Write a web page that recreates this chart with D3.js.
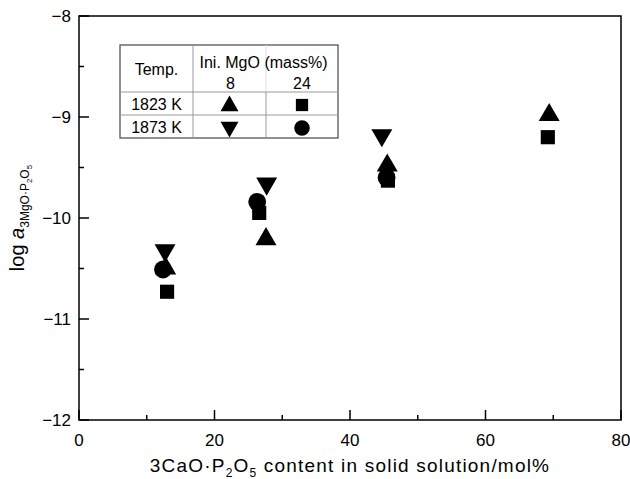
<!DOCTYPE html>
<html>
<head>
<meta charset="utf-8">
<script src="https://cdn.jsdelivr.net/npm/d3@7"></script>
<style>
  body { margin: 0; background: #fff; }
  svg text { font-family: "Liberation Sans", Arial, sans-serif; fill: #000; }
</style>
</head>
<body>
<svg id="chart" width="630" height="479"></svg>
<script>
// x: 3CaO·P2O5 content (mol%), y: log a(3MgO·P2O5)
const triUpX = [12.8, 27.6, 45.5, 69.4];      // 1823 K, 8 mass% MgO
const triUpY = [-10.50, -10.21, -9.48, -8.98];
const squareX = [13.0, 26.6, 45.6, 69.2];     // 1823 K, 24 mass% MgO
const squareY = [-10.73, -9.95, -9.63, -9.20];
const triDownX = [12.7, 27.7, 44.7];          // 1873 K, 8 mass% MgO
const triDownY = [-10.32, -9.66, -9.18];
const circleX = [12.4, 26.3, 45.4];           // 1873 K, 24 mass% MgO
const circleY = [-10.51, -9.84, -9.60];

const xTicks = [0, 20, 40, 60, 80];
const xMinor = [10, 30, 50, 70];
const yTicks = [-8, -9, -10, -11, -12];
const yMinor = [-8.5, -9.5, -10.5, -11.5];

const svg = d3.select("#chart");
const margin = { left: 79, right: 9, top: 16, bottom: 59 };
const width = 630, height = 479;

const x = d3.scaleLinear().domain([0, 80]).range([margin.left, width - margin.right]);
const y = d3.scaleLinear().domain([-12, -8]).range([height - margin.bottom, margin.top]);

// frame
svg.append("rect")
  .attr("x", x(0)).attr("y", y(-8))
  .attr("width", x(80) - x(0)).attr("height", y(-12) - y(-8))
  .attr("fill", "none").attr("stroke", "#000").attr("stroke-width", 1.5);

// x axis ticks (inward)
svg.append("g").selectAll("line")
  .data(xTicks.map(v => ({ v, len: 10 })).concat(xMinor.map(v => ({ v, len: 5 }))))
  .join("line")
  .attr("x1", d => x(d.v)).attr("x2", d => x(d.v))
  .attr("y1", y(-12)).attr("y2", d => y(-12) - d.len)
  .attr("stroke", "#000").attr("stroke-width", 1.5);

svg.append("g").selectAll("text")
  .data(xTicks)
  .join("text")
  .attr("x", d => x(d)).attr("y", y(-12) + 26)
  .attr("text-anchor", "middle")
  .style("font-size", "17px")
  .text(d => d);

// y axis ticks (inward)
svg.append("g").selectAll("line")
  .data(yTicks.map(v => ({ v, len: 10 })).concat(yMinor.map(v => ({ v, len: 5 }))))
  .join("line")
  .attr("y1", d => y(d.v)).attr("y2", d => y(d.v))
  .attr("x1", x(0)).attr("x2", d => x(0) + d.len)
  .attr("stroke", "#000").attr("stroke-width", 1.5);

svg.append("g").selectAll("text")
  .data(yTicks)
  .join("text")
  .attr("x", x(0) - 8).attr("y", d => y(d)).attr("dy", "0.35em")
  .attr("text-anchor", "end")
  .style("font-size", "17px")
  .text(d => "\u2212" + Math.abs(d));

// x axis title
const xt = svg.append("text")
  .attr("x", (x(0) + x(80)) / 2).attr("y", 472)
  .attr("text-anchor", "middle")
  .style("font-size", "19px")
  .style("letter-spacing", "1.2px");
xt.append("tspan").text("3CaO\u00B7P");
xt.append("tspan").attr("dy", 5).style("font-size", "12px").text("2");
xt.append("tspan").attr("dy", -5).text("O");
xt.append("tspan").attr("dy", 5).style("font-size", "12px").text("5");
xt.append("tspan").attr("dy", -5).text(" content in solid solution/mol%");

// y axis title
const yt = svg.append("text")
  .attr("transform", `translate(24, ${y(-10)}) rotate(-90)`)
  .attr("text-anchor", "middle")
  .style("font-size", "20px");
yt.append("tspan").text("log ");
yt.append("tspan").style("font-style", "italic").text("a");
yt.append("tspan").attr("dy", 5).style("font-size", "12px").text("3MgO\u00B7P");
yt.append("tspan").attr("dy", 3).style("font-size", "8px").text("2");
yt.append("tspan").attr("dy", -3).style("font-size", "12px").text("O");
yt.append("tspan").attr("dy", 3).style("font-size", "8px").text("5");

// markers
const sym = {
  triUp: d3.symbol().type(d3.symbolTriangle).size(190),
  triDown: d3.symbol().type(d3.symbolTriangle).size(190),
  square: d3.symbol().type(d3.symbolSquare).size(200),
  circle: d3.symbol().type(d3.symbolCircle).size(250),
};
const series = [
  { xs: squareX, ys: squareY, s: "square", rot: 0 },
  { xs: triUpX, ys: triUpY, s: "triUp", rot: 0 },
  { xs: circleX, ys: circleY, s: "circle", rot: 0 },
  { xs: triDownX, ys: triDownY, s: "triDown", rot: 180 },
];
series.forEach(sr => {
  svg.append("g").selectAll("path")
    .data(sr.xs.map((v, i) => [v, sr.ys[i]]))
    .join("path")
    .attr("d", sym[sr.s]())
    .attr("transform", d => `translate(${x(d[0])},${y(d[1])}) rotate(${sr.rot})`)
    .attr("fill", "#000");
});

// legend table
const lg = svg.append("g");
const L = 120, R = 338, T = 45, B = 138, c1 = 193, c2 = 266, r1 = 92, r2 = 115;
lg.append("rect").attr("x", L).attr("y", T).attr("width", R - L).attr("height", B - T)
  .attr("fill", "#fff").attr("stroke", "#555").attr("stroke-width", 1.3);
lg.append("line").attr("x1", c1).attr("x2", c1).attr("y1", T).attr("y2", B).attr("stroke", "#999");
lg.append("line").attr("x1", c2).attr("x2", c2).attr("y1", T).attr("y2", r1).attr("stroke", "#ddd");
lg.append("line").attr("x1", c2).attr("x2", c2).attr("y1", r1).attr("y2", B).attr("stroke", "#999");
lg.append("line").attr("x1", L).attr("x2", R).attr("y1", r1).attr("y2", r1).attr("stroke", "#999");
lg.append("line").attr("x1", L).attr("x2", R).attr("y1", r2).attr("y2", r2).attr("stroke", "#999");

const lt = [
  { t: "Temp.", x: (L + c1) / 2, y: 75 },
  { t: "Ini. MgO (mass%)", x: (c1 + R) / 2 - 2, y: 68 },
  { t: "8", x: (c1 + c2) / 2 + 1, y: 89 },
  { t: "24", x: (c2 + R) / 2, y: 89 },
  { t: "1823 K", x: (L + c1) / 2, y: 110 },
  { t: "1873 K", x: (L + c1) / 2, y: 133 },
];
lg.selectAll("text").data(lt).join("text")
  .attr("x", d => d.x).attr("y", d => d.y)
  .attr("text-anchor", "middle")
  .style("font-size", "16px")
  .text(d => d.t);

const lsym = [
  { s: d3.symbol().type(d3.symbolTriangle).size(140), x: (c1 + c2) / 2, y: 106, rot: 0 },
  { s: d3.symbol().type(d3.symbolSquare).size(150), x: (c2 + R) / 2, y: 105, rot: 0 },
  { s: d3.symbol().type(d3.symbolTriangle).size(140), x: (c1 + c2) / 2, y: 127, rot: 180 },
  { s: d3.symbol().type(d3.symbolCircle).size(190), x: (c2 + R) / 2, y: 128, rot: 0 },
];
lg.selectAll("path").data(lsym).join("path")
  .attr("d", d => d.s())
  .attr("transform", d => `translate(${d.x},${d.y}) rotate(${d.rot})`)
  .attr("fill", "#000");
</script>
</body>
</html>
